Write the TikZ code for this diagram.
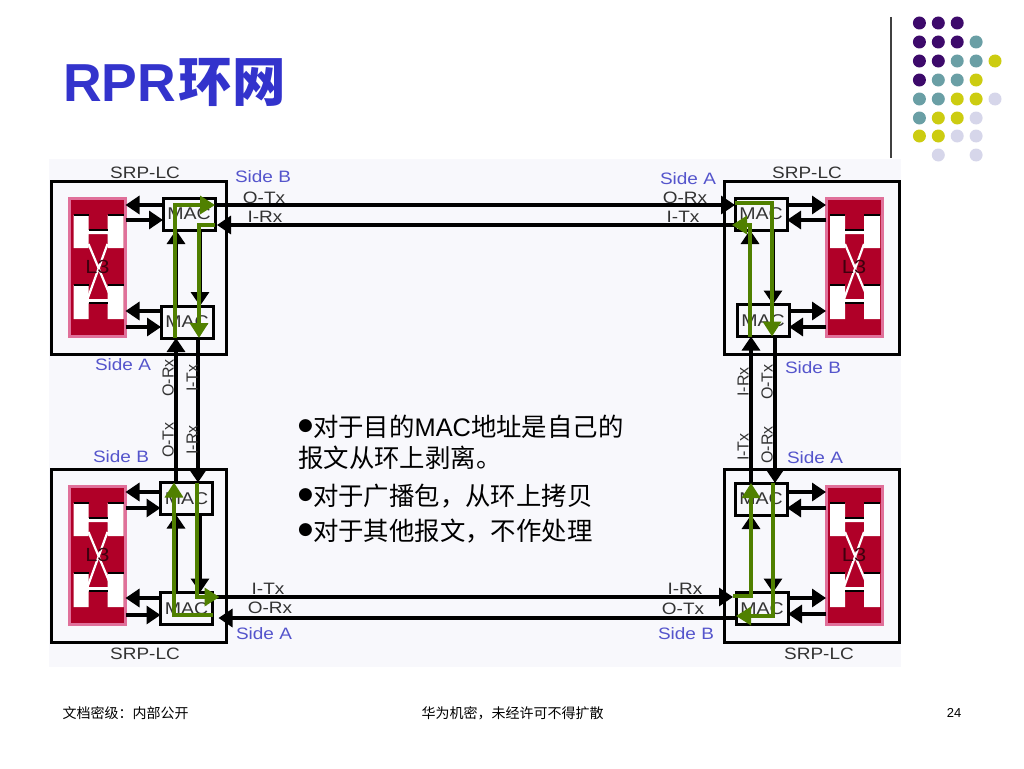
\documentclass[tikz,border=0pt]{standalone}
\usepackage{fontspec}
\usepackage{xcolor}
\usetikzlibrary{arrows.meta}
\setmainfont{Liberation Sans}
\newfontfamily\cjk{Noto Sans CJK SC}
\newfontfamily\labfont[FakeStretch=1.15]{Liberation Sans}
\newfontfamily\dotfont{DejaVu Sans}
\definecolor{panelgray}{HTML}{F8F8FC}
\definecolor{titleblue}{HTML}{3333CC}
\definecolor{sideblue}{HTML}{5555CC}
\definecolor{ltred}{HTML}{B00028}
\definecolor{ltpink}{HTML}{E0709A}
\definecolor{ringgreen}{HTML}{508000}
\definecolor{dotP}{HTML}{3D0A6B}
\definecolor{dotT}{HTML}{6A9FA5}
\definecolor{dotY}{HTML}{CCCC11}
\definecolor{dotL}{HTML}{D6D6EA}
\newcommand{\bulletmark}{\raisebox{6pt}{\dotfont\fontsize{17}{17}\selectfont ●}}
\tikzset{
  lcbox/.style={draw,line width=3pt,fill=panelgray,minimum width=175pt,minimum height=173pt,inner sep=0pt,outer sep=0pt},
  macbox/.style={draw,line width=3pt,fill=panelgray,minimum width=52pt,minimum height=32pt,inner sep=0pt,outer sep=0pt,
    text=black!80,font=\labfont\fontsize{17}{18}\selectfont},
  ltbox/.style={draw=ltpink,line width=3pt,fill=ltred,minimum width=56pt,minimum height=138pt,inner sep=0pt,outer sep=0pt},
  lttext/.style={text=black!65!ltred,inner sep=0pt,font=\labfont\fontsize{19}{20}\selectfont},
  linklabel/.style={text=black!80,inner sep=0pt,font=\labfont\fontsize{16.5}{18}\selectfont},
  vlabel/.style={text=black!80,inner sep=0pt,rotate=90,font=\fontsize{16}{18}\selectfont},
  sidelabel/.style={text=sideblue,inner sep=0pt,font=\labfont\fontsize{16.5}{18}\selectfont},
  bodytext/.style={anchor=west,inner sep=0pt,font=\fontsize{25.4}{30}\selectfont},
  foottext/.style={inner sep=0pt,font=\cjk\fontsize{14}{16}\selectfont},
  blkarr/.style={line width=3.2pt,-{Triangle[length=14pt,width=18pt]}},
  grnarr/.style={draw=ringgreen,line width=3.4pt,-{Triangle[length=15pt,width=18pt]}}
}
\begin{document}
\begin{tikzpicture}[x=1pt,y=-1pt]
  \useasboundingbox (0,0) rectangle (1024,768);
  \fill[panelgray] (49,159) rectangle (901,667);
  \draw[black!75,line width=1.2pt] (891,17) -- (891,158);
  \foreach \y/\row in {
    23/{1/P,2/P,3/P},
    42/{1/P,2/P,3/P,4/T},
    61/{1/P,2/P,3/T,4/T,5/Y},
    80/{1/P,2/T,3/T,4/Y},
    99/{1/T,2/T,3/Y,4/Y,5/L},
    118/{1/T,2/Y,3/Y,4/L},
    136/{1/Y,2/Y,3/L,4/L},
    155/{2/L,4/L}}
    \foreach \c/\k in \row
      \fill[dot\k] ({900.5+\c*18.9},\y) circle[radius=6.5pt];
  \node[anchor=west,inner sep=0pt,text=titleblue,font=\bfseries\fontsize{53.5}{60}\selectfont] (title) at (63,82) {RPR\hspace{2pt}{\cjk 环\hspace{1pt}网}};

  \node[lcbox] (tlcard) at (138.5,267.5) {};
  \node[lcbox] (trcard) at (811.5,267.5) {};
  \node[lcbox] (blcard) at (138.5,555.5) {};
  \node[lcbox] (brcard) at (811.5,555.5) {};

  \foreach \n/\x/\y in {tlcore/97.5/267, trcore/854/267, blcore/97.5/555, brcore/854/555} {
    \node[ltbox] (\n) at (\x,\y) {};
    \begin{scope}[shift={(\n.north west)}]
      \fill[white] (4,17) rectangle (19,50) (38,17) rectangle (54,50) (19,32) rectangle (38,36);
      \fill[white] (4,87) rectangle (19,121) (38,87) rectangle (54,121) (19,101) rectangle (38,105);
      \draw[black,line width=2pt] (4,17) -- (19,17) (38,17) -- (54,17) (19,32) -- (38,32);
      \draw[black,line width=2pt] (4,87) -- (19,87) (38,87) -- (54,87) (19,105) -- (38,105);
      \draw[white,line width=2.2pt] (19,46) -- (42,101) (38,46) -- (18,101);
    \end{scope}
    \node[lttext] (\n txt) at (\n) {L3};
  }

  \node[macbox] (tlmact) at (189,214) {MAC};
  \node[macbox] (tlmacb) at (187,322) {MAC};
  \node[macbox] (trmact) at (761,214) {MAC};
  \node[macbox] (trmacb) at (763,320.5) {MAC};
  \node[macbox] (blmact) at (186.5,498.5) {MAC};
  \node[macbox] (blmacb) at (186.5,608.5) {MAC};
  \node[macbox] (brmact) at (761,499) {MAC};
  \node[macbox] (brmacb) at (762,608.5) {MAC};

  \foreach \m/\l/\ya/\yb in {tlmact/tlcore/205/220, tlmacb/tlcore/311/327, blmact/blcore/492/508, blmacb/blcore/598/615} {
    \draw[blkarr] (\m.west |- 0,\ya) -- (\l.east |- 0,\ya);
    \draw[blkarr] (\l.east |- 0,\yb) -- (\m.west |- 0,\yb);
  }
  \foreach \m/\l/\ya/\yb in {trmact/trcore/205/220, trmacb/trcore/311/327, brmact/brcore/492/508, brmacb/brcore/598/614} {
    \draw[blkarr] (\m.east |- 0,\ya) -- (\l.west |- 0,\ya);
    \draw[blkarr] (\l.west |- 0,\yb) -- (\m.east |- 0,\yb);
  }

  \foreach \s/\e/\y/\d in {tlmact.east/trmact.west/205/0pt, trmact.west/tlmact.east/225/2pt, blmacb.east/brmacb.west/597/-3pt, brmacb.west/blmacb.east/618/6pt}
    \draw[blkarr] (\s |- 0,\y) -- ([xshift=\d]\e |- 0,\y);

  \foreach \s/\e/\x in {
    tlmacb.north/tlmact.south/176, tlmact.south/tlmacb.north/200,
    trmacb.north/trmact.south/750, trmact.south/trmacb.north/773,
    blmacb.north/blmact.south/176, blmact.south/blmacb.north/200,
    brmacb.north/brmact.south/751, brmact.south/brmacb.north/773,
    blmact.north/tlmacb.south/176, tlmacb.south/blmact.north/198,
    brmact.north/trmacb.south/751, trmacb.south/brmact.north/775}
    \draw[blkarr] (\s -| \x,0) -- (\e -| \x,0);

  \draw[grnarr] (tlmacb.south -| 175,0) |- (tlmact.east |- 0,205);
  \draw[grnarr] (tlmact.east |- 0,225) -| (tlmacb.south -| 199,0);
  \draw[grnarr] (trmact.west |- 0,203) -| (trmacb.south -| 772,0);
  \draw[grnarr] (trmacb.south -| 750,0) |- ([xshift=-3pt]trmact.west |- 0,225);
  \draw[grnarr] (blmacb.east |- 0,615) -| (blmact.north -| 174,0);
  \draw[grnarr] (blmact.north -| 197,0) |- ([xshift=7pt]blmacb.east |- 0,597);
  \draw[grnarr] ([xshift=-3pt]brmacb.west |- 0,596) -| (brmact.north -| 751,0);
  \draw[grnarr] (brmact.north -| 773,0) |- (brmacb.west |- 0,616);

  \foreach \n/\x/\y/\t in {lca/145/173/SRP-LC, lcb/807/173/SRP-LC, lcc/145/654/SRP-LC, lcd/819/654/SRP-LC,
    la/264/198/O-Tx, lb/265/217/I-Rx, lc/685/198/O-Rx, ld/683/217/I-Tx,
    le/268/589/I-Tx, lf/270/608/O-Rx, lg/685/589/I-Rx, lh/683/609/O-Tx}
    \node[linklabel] (\n) at (\x,\y) {\t};
  \foreach \n/\x/\y/\t in {va/168/378/O-Rx, vb/192/378/I-Tx, vc/168/440/O-Tx, vd/192/440/I-Rx,
    ve/743/382/I-Rx, vf/767/382/O-Tx, vg/743/447/I-Tx, vh/767/445/O-Rx}
    \node[vlabel] (\n) at (\x,\y) {\t};
  \foreach \n/\x/\y/\t in {sa/263/177/Side B, sb/688/179/Side A, sc/123/365/Side A, sd/813/368/Side B,
    se/121/457/Side B, sf/815/458/Side A, sg/264/634/Side A, sh/686/634/Side B}
    \node[sidelabel] (\n) at (\x,\y) {\t};

  \node[bodytext] (lineone) at (298,427) {\bulletmark{\cjk 对于目的}MAC{\cjk 地址是自己的}};
  \node[bodytext] (linetwo) at (298,458) {\cjk 报文从环上剥离。};
  \node[bodytext] (linethree) at (298,496) {\bulletmark{\cjk 对于广播包，从环上拷贝}};
  \node[bodytext] (linefour) at (298,531) {\bulletmark{\cjk 对于其他报文，不作处理}};

  \node[foottext] (footleft) at (125.5,713) {文档密级：内部公开};
  \node[foottext] (footmid) at (512.5,713) {华为机密，未经许可不得扩散};
  \node[inner sep=0pt,font=\fontsize{13}{15}\selectfont] (pagenum) at (954,713) {24};
\end{tikzpicture}
\end{document}
